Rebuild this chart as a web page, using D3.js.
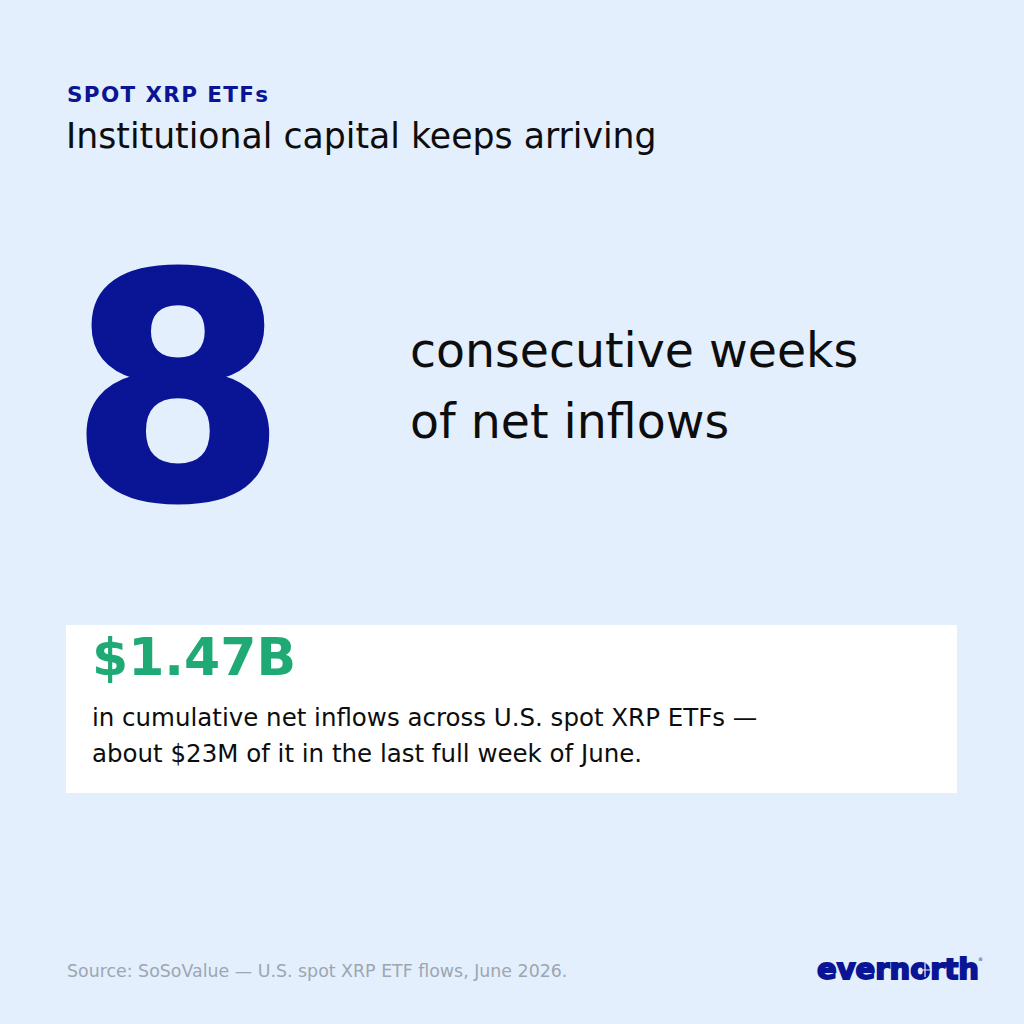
<!DOCTYPE html>
<html>
<head>
<meta charset="utf-8">
<script src="https://cdn.jsdelivr.net/npm/d3@7"></script>
<style>
  html, body { margin: 0; padding: 0; background: #e3effd; }
  svg { display: block; }
</style>
</head>
<body>
<svg class="card"></svg>
<script>
const width = 1024, height = 1024;

// card content
const kicker = ["SPOT XRP ETFs"];
const headline = ["Institutional capital keeps arriving"];
const bigStat = [8];
const bigStatLabel = ["consecutive weeks", "of net inflows"];
const flowValue = [1.47];            // $ billions, cumulative
const flowLabel = [
  "in cumulative net inflows across U.S. spot XRP ETFs \u2014",
  "about $23M of it in the last full week of June."
];
const source = ["Source: SoSoValue \u2014 U.S. spot XRP ETF flows, June 2026."];
const brand = ["evernorth"];

const navy = "#0a1595", green = "#1fa974";
const font = "'DejaVu Sans', sans-serif";

const svg = d3.select(".card")
  .attr("width", width)
  .attr("height", height)
  .attr("font-family", font);

svg.append("rect")
  .attr("width", width)
  .attr("height", height)
  .attr("fill", "#e3effd");

// header
svg.append("g").selectAll("text")
  .data(kicker)
  .enter().append("text")
    .attr("x", 67)
    .attr("y", 102)
    .attr("fill", navy)
    .attr("font-size", 21.5)
    .attr("font-weight", "bold")
    .attr("letter-spacing", 1.35)
    .text(d => d);

svg.append("g").selectAll("text")
  .data(headline)
  .enter().append("text")
    .attr("x", 66)
    .attr("y", 148)
    .attr("fill", "#0d0d0d")
    .attr("font-size", 34.7)
    .text(d => d);

// the big number
svg.append("g").selectAll("text")
  .data(bigStat)
  .enter().append("text")
    .attr("x", 178)
    .attr("y", 498)
    .attr("text-anchor", "middle")
    .attr("fill", navy)
    .attr("font-size", 312)
    .attr("font-weight", 900)
    .attr("stroke", navy)
    .attr("stroke-width", 4)
    .attr("stroke-linejoin", "round")
    .text(d => d);

svg.append("g").selectAll("text")
  .data(bigStatLabel)
  .enter().append("text")
    .attr("x", 410)
    .attr("y", (d, i) => 367 + i * 71)
    .attr("fill", "#0d0d0d")
    .attr("font-size", 47.4)
    .text(d => d);

// white box with the flow figure
const box = svg.append("g");
box.append("rect")
  .attr("x", 66)
  .attr("y", 625)
  .attr("width", 891)
  .attr("height", 168)
  .attr("fill", "#fff");

const money = d3.format("$.2f");
box.selectAll(".val")
  .data(flowValue)
  .enter().append("text")
    .attr("class", "val")
    .attr("x", 92)
    .attr("y", 675)
    .attr("fill", green)
    .attr("font-size", 52)
    .attr("font-weight", "bold")
    .text(d => money(d) + "B");

box.selectAll(".lbl")
  .data(flowLabel)
  .enter().append("text")
    .attr("class", "lbl")
    .attr("x", 92)
    .attr("y", (d, i) => 726 + i * 36)
    .attr("fill", "#0d0d0d")
    .attr("font-size", 24.5)
    .text(d => d);

// footer
svg.append("g").selectAll("text")
  .data(source)
  .enter().append("text")
    .attr("x", 67)
    .attr("y", 977)
    .attr("fill", "#9da6b1")
    .attr("font-size", 17.4)
    .text(d => d);

const logo = svg.append("g");
logo.selectAll("text")
  .data(brand)
  .enter().append("text")
    .attr("x", 817)
    .attr("y", 979)
    .attr("fill", navy)
    .attr("stroke", navy)
    .attr("stroke-width", 1.8)
    .attr("font-size", 28)
    .attr("font-weight", "bold")
    .attr("textLength", 162)
    .attr("lengthAdjust", "spacingAndGlyphs")
    .text(d => d);

// little spark inside the "o"
logo.append("path")
  .attr("d", "M925,963 L925,977 M918,970 L932,970")
  .attr("stroke", "#e3effd")
  .attr("stroke-width", 1.2);

logo.append("text")
  .attr("x", 978)
  .attr("y", 961)
  .attr("fill", navy)
  .attr("font-size", 5)
  .text("\u00ae");
</script>
</body>
</html>
